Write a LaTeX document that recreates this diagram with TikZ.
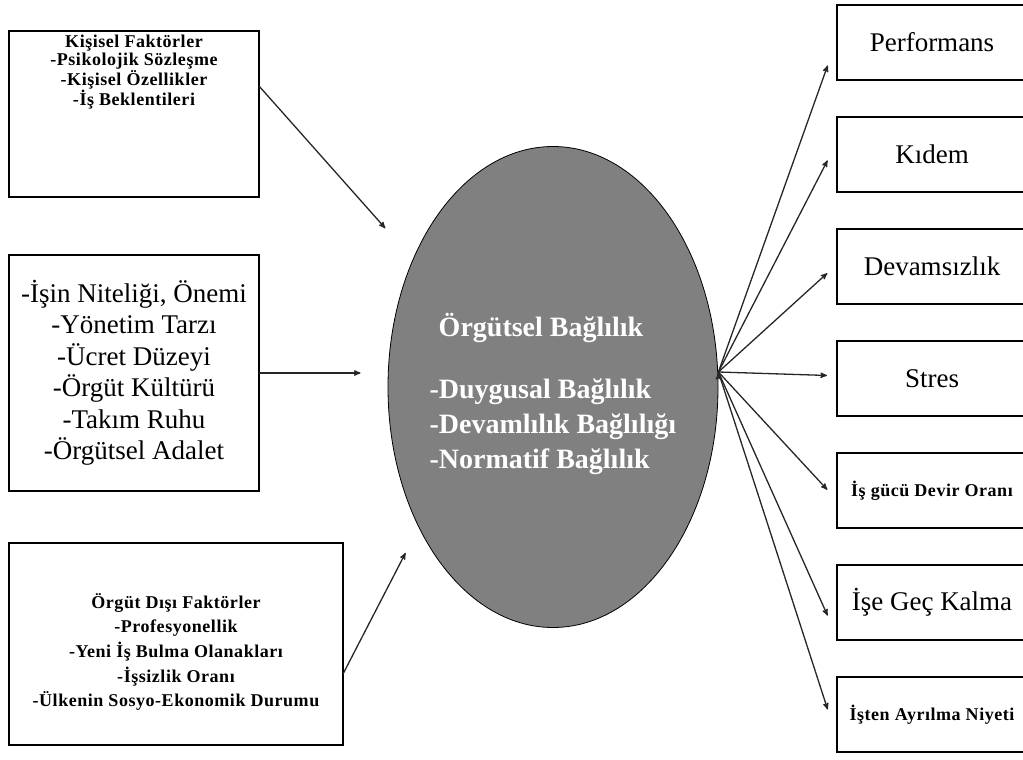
\documentclass[tikz,border=0pt]{standalone}
\usepackage{fontspec}
\setmainfont{Liberation Serif}
\newfontfamily\seyrek[LetterSpace=3]{Liberation Serif}
\usepackage{tikz}
\usetikzlibrary{
        arrows,
        calc,
        positioning,
        shapes.geometric
    }
\tikzset{>=stealth',shorten >=1pt,auto,node distance=37pt}
\tikzset{
    kutu/.style={draw,rectangle,line width=1.6pt,inner sep=0pt,outer sep=0pt},
    sonuc/.style={kutu,minimum width=190pt,minimum height=75pt,font=\fontsize{27}{31}\selectfont},
    kucuk/.style={align=center,font=\seyrek\bfseries\fontsize{18}{18}\selectfont},
    ok/.style={->,draw=black!85,line width=1.3pt}
}

\begin{document}
\begin{tikzpicture}[x=1pt,y=1pt]
                    \useasboundingbox (0,0) rectangle (1023,-760);
                    \clip (0,0) rectangle (1023,-760);
                    % ana kavram
                    \node[ellipse,draw,line width=0.8pt,fill=black!50,minimum width=330pt,minimum height=481pt] (orgut) at (553,-387) {};
                    \node[text=white,font=\bfseries\fontsize{28}{35}\selectfont] (baslik) at (541,-328) {Örgütsel Bağlılık};
                    \node[text=white,align=left,anchor=west,font=\bfseries\fontsize{28}{35}\selectfont] (boyut) at (426,-427) {-Duygusal Bağlılık\\-Devamlılık Bağlılığı\\-Normatif Bağlılık};
                    \coordinate (merkez) at ($(orgut.east)+(0,15)$);
                    % sol kutular
                    \node[kutu,minimum width=250pt,minimum height=166pt,anchor=north west] (kisisel) at (9,-31) {};
                    \node[kucuk] (kisiselyazi) at ($(kisisel.north)+(0,-41)$) {Kişisel Faktörler\\-Psikolojik Sözleşme\\-Kişisel Özellikler\\-İş Beklentileri};
                    \node[kutu,minimum width=250pt,minimum height=236pt,anchor=north west,align=center,font=\fontsize{27}{31.5}\selectfont] (orgutici) at (9,-255) {-İşin Niteliği, Önemi\\-Yönetim Tarzı\\-Ücret Düzeyi\\-Örgüt Kültürü\\-Takım Ruhu\\-Örgütsel Adalet};
                    \node[kutu,minimum width=334pt,minimum height=202pt,anchor=north west] (orgutdisi) at (9,-543) {};
                    \node[kucuk,font=\seyrek\bfseries\fontsize{18}{24.7}\selectfont] (orgutdisiyazi) at ($(orgutdisi)+(0,-8)$) {Örgüt Dışı Faktörler\\-Profesyonellik\\-Yeni İş Bulma Olanakları\\-İşsizlik Oranı\\-Ülkenin Sosyo-Ekonomik Durumu};
                    % sonuc kutulari
                    \node[sonuc,anchor=north west] (perf) at (837,-5) {Performans};
                    \node[sonuc] (kidem) [below=of perf] {Kıdem};
                    \node[sonuc] (devam) [below=of kidem] {Devamsızlık};
                    \node[sonuc] (stres) [below=of devam] {Stres};
                    \node[sonuc,kucuk] (devir) [below=of stres] {İş gücü Devir Oranı};
                    \node[sonuc] (gec) [below=of devir] {İşe Geç Kalma};
                    \node[sonuc,kucuk] (ayrilma) [below=of gec] {İşten Ayrılma Niyeti};
                    \path[ok]
                        ($(kisisel.east)+(0,28)$) edge ($(orgut)+(-167,158)$)
                        (orgutici.east) edge ($(orgut.west)+(-26,14)$)
                        ($(orgutdisi.east)+(0,-30)$) edge ($(orgut)+(-147,-165)$)
                        (merkez) edge ($(perf.west)+(-9,-22)$)
                        (merkez) edge ($(kidem.west)+(-9,-5)$)
                        (merkez) edge ($(devam.west)+(-9,-6)$)
                        (merkez) edge ($(stres.west)+(-9,3)$)
                        (merkez) edge ($(devir.west)+(-9,0)$)
                        (merkez) edge ($(gec.west)+(-9,-14)$)
                        (merkez) edge ($(ayrilma.west)+(-9,4)$)
                    ;
                \end{tikzpicture}
\end{document}
